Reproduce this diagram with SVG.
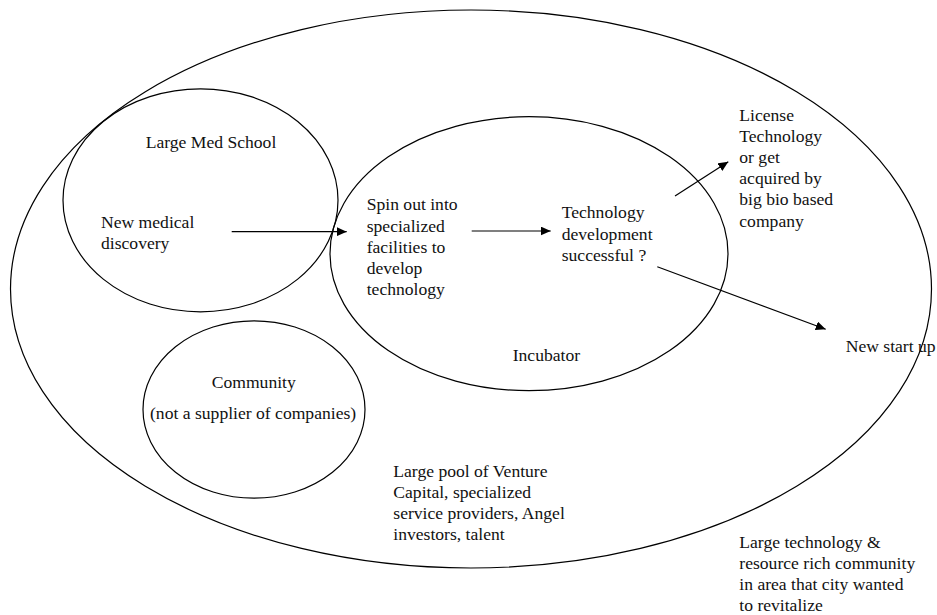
<svg xmlns="http://www.w3.org/2000/svg" width="937" height="615" viewBox="0 0 937 615">
  <style>
    .ring { fill: none; stroke: #000; stroke-width: 1.2; }
    .edge { fill: none; stroke: #000; stroke-width: 1.2; }
    .lbl { font-family: 'Liberation Serif', Tinos, 'Times New Roman', 'DejaVu Serif', serif; font-size: 17.6px; fill: #111; }
  </style>
  <defs>
    <marker id="arrow" markerUnits="userSpaceOnUse" markerWidth="10" markerHeight="9" refX="10" refY="4.5" orient="auto">
      <path d="M0,0 L10,4.5 L0,9 Z" fill="#000"/>
    </marker>
  </defs>
  <rect width="937" height="615" fill="#fff"/>

  <g class="lbl" font-family="Liberation Serif, Tinos, Times New Roman, DejaVu Serif, serif">
  <!-- outer region: the whole community -->
  <g id="region">
    <ellipse class="ring" cx="471" cy="289" rx="460.5" ry="279"/>
    <text x="393.3" y="476.7">Large pool of Venture</text>
    <text x="393.3" y="497.7">Capital, specialized</text>
    <text x="393.3" y="518.7">service providers, Angel</text>
    <text x="393.3" y="539.7">investors, talent</text>
    <text x="739.3" y="547.7">Large technology &amp;</text>
    <text x="739.3" y="568.7">resource rich community</text>
    <text x="739.3" y="589.7">in area that city wanted</text>
    <text x="739.3" y="610.5">to revitalize</text>
  </g>

  <g id="med-school">
    <ellipse class="ring" cx="200.5" cy="200.3" rx="137.5" ry="111.5"/>
    <text x="145.7" y="147.7">Large Med School</text>
    <text x="101" y="227.7">New medical</text>
    <text x="101" y="248.7">discovery</text>
  </g>

  <g id="incubator">
    <ellipse class="ring" cx="529" cy="253.7" rx="199" ry="137"/>
    <text x="366.7" y="210.3">Spin out into</text>
    <text x="366.7" y="231.5">specialized</text>
    <text x="366.7" y="252.7">facilities to</text>
    <text x="366.7" y="273.9">develop</text>
    <text x="366.7" y="295.1">technology</text>
    <text x="561.7" y="218.3">Technology</text>
    <text x="561.7" y="239.5">development</text>
    <text x="561.7" y="260.7">successful ?</text>
    <text x="512.7" y="360.7">Incubator</text>
  </g>

  <g id="community">
    <ellipse class="ring" cx="254" cy="409.5" rx="111" ry="88.7"/>
    <text x="211.7" y="387.7">Community</text>
    <text x="150" y="419.3">(not a supplier of companies)</text>
  </g>

  <g id="license">
    <text x="739.3" y="121">License</text>
    <text x="739.3" y="142.1">Technology</text>
    <text x="739.3" y="163.2">or get</text>
    <text x="739.3" y="184.3">acquired by</text>
    <text x="739.3" y="205.4">big bio based</text>
    <text x="739.3" y="226.5">company</text>
  </g>

  <g id="startup">
    <text x="845.7" y="351.7">New start up</text>
  </g>
  </g>

  <g id="connectors">
    <line class="edge" x1="231.7" y1="231.7" x2="346.7" y2="231.7" marker-end="url(#arrow)"/>
    <line class="edge" x1="471.7" y1="231" x2="550.7" y2="231" marker-end="url(#arrow)"/>
    <line class="edge" x1="675" y1="196" x2="728.3" y2="161.7" marker-end="url(#arrow)"/>
    <line class="edge" x1="657.3" y1="266.7" x2="825.7" y2="329.3" marker-end="url(#arrow)"/>
  </g>
</svg>
